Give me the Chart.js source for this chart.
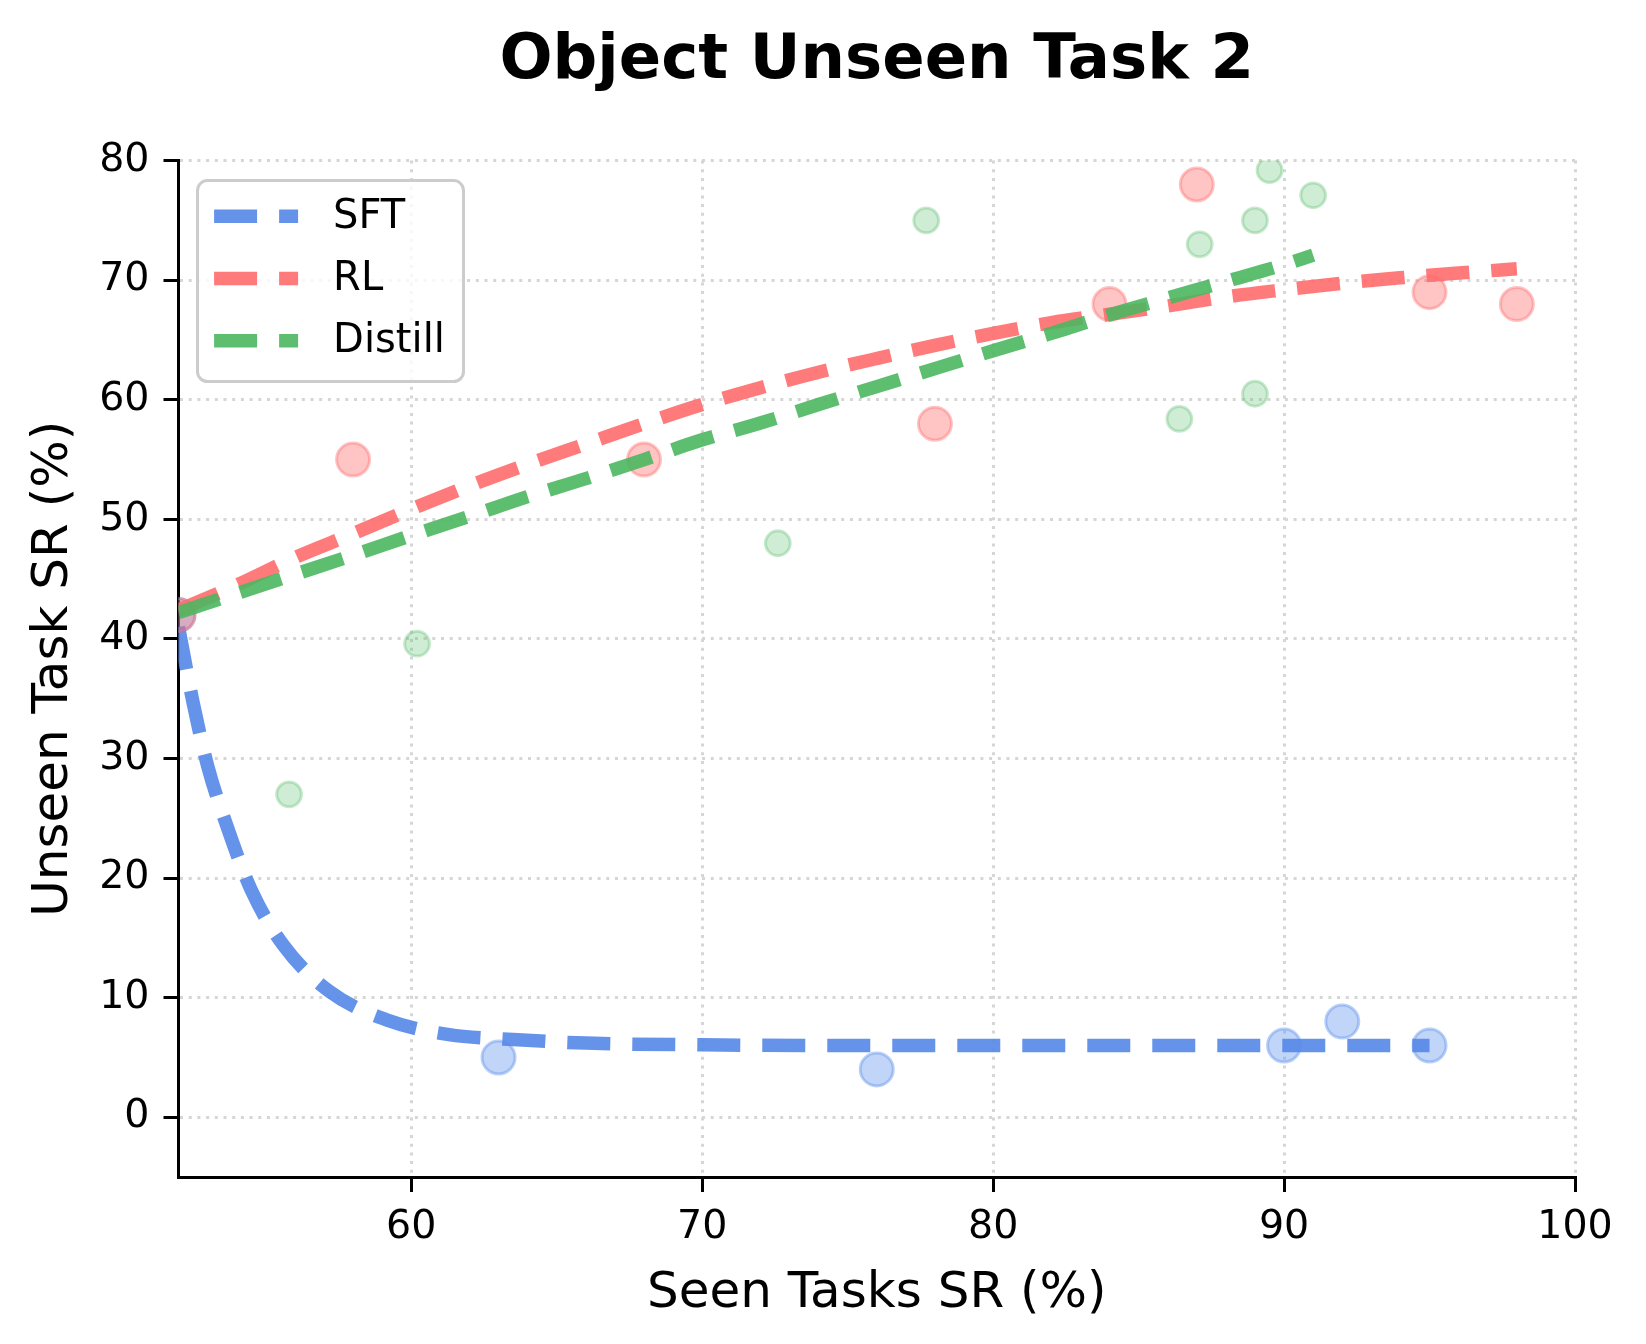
<!DOCTYPE html>
<html>
<head>
<meta charset="utf-8">
<title>Object Unseen Task 2</title>
<script src="https://cdn.jsdelivr.net/npm/chart.js@4.4.0/dist/chart.umd.min.js"></script>
<style>
  html, body { margin: 0; padding: 0; background: #fff; }
  canvas { display: block; }
</style>
</head>
<body>
<canvas id="grafico" width="1646" height="1344"></canvas>
<script>
// PUNTI
const sftX = [52, 63, 76, 90, 92, 95];
const sftY = [42, 5, 4, 6, 8, 6];
const rlX = [52, 58, 68, 78, 84, 87, 95, 98];
const rlY = [42, 55, 55, 58, 68, 78, 69, 68];
const distX = [55.8, 60.2, 72.6, 77.7, 86.4, 87.1, 89, 89, 89.5, 91];
const distY = [27, 39.6, 48, 75, 58.4, 73, 75, 60.5, 79.2, 77.1];

// CURVE DI TENDENZA
const sftCurveX = [52, 52.5, 53, 53.7, 54.5, 55.6, 57.2, 59.2, 61.3, 63.5, 66, 70, 75, 80, 85, 90, 95];
const sftCurveY = [41, 34.7, 29.4, 24.1, 19.0, 14.4, 10.5, 8.1, 6.9, 6.5, 6.2, 6.05, 6, 6, 6, 6, 6];
const rlCurveX = [52, 54, 56, 58, 60, 62, 64, 66, 68, 70, 72, 74, 76, 78, 80, 82, 84, 86, 88, 90, 92, 94, 96, 98];
const rlCurveY = [42.4, 44.5, 46.8, 48.8, 50.85, 52.8, 54.6, 56.3, 58.0, 59.6, 61.0, 62.3, 63.45, 64.55, 65.55, 66.45, 67.15, 67.85, 68.6, 69.2, 69.75, 70.2, 70.6, 70.95];
const distCurveX = [52, 54, 56, 58, 60, 62, 64, 66, 68, 70, 72, 74, 76, 78, 80, 82, 84, 86, 88, 90, 91];
const distCurveY = [42.2, 43.8, 45.4, 47.0, 48.65, 50.25, 51.9, 53.4, 55.0, 56.65, 58.05, 59.6, 61.1, 62.6, 64.1, 65.55, 67.1, 68.5, 69.9, 71.3, 72.1];

const xTicks = [60, 70, 80, 90, 100];
const yTicks = [0, 10, 20, 30, 40, 50, 60, 70, 80];
const nomiSerie = ['SFT', 'RL', 'Distill'];

const font = 'DejaVu Sans';
const coloriLinea = ['rgba(88,138,232,0.92)', 'rgba(255,107,107,0.9)', 'rgba(76,183,96,0.9)'];
const coloriPunti = ['rgba(100,149,237,0.4)', 'rgba(255,107,107,0.4)', 'rgba(76,183,96,0.27)'];
const bordiPunti = ['rgba(100,149,237,0.45)', 'rgba(255,107,107,0.4)', 'rgba(76,183,96,0.3)'];
const tratteggio = [43, 22];

function coppie(xs, ys) {
  return xs.map((x, i) => ({x: x, y: ys[i]}));
}

function punti(i, xs, ys, raggio, ordine) {
  return {
    type: 'scatter',
    label: nomiSerie[i] + ' punti',
    data: coppie(xs, ys),
    backgroundColor: coloriPunti[i],
    borderColor: bordiPunti[i],
    borderWidth: 3,
    pointRadius: raggio,
    pointHoverRadius: raggio,
    clip: 0,
    order: ordine
  };
}

function curva(i, xs, ys, ordine) {
  return {
    type: 'line',
    label: nomiSerie[i],
    data: coppie(xs, ys),
    borderColor: coloriLinea[i],
    borderWidth: 13.5,
    borderDash: tratteggio,
    borderCapStyle: 'butt',
    borderJoinStyle: 'round',
    cubicInterpolationMode: 'monotone',
    pointRadius: 0,
    fill: false,
    clip: 0,
    order: ordine
  };
}

//LEGENDA dentro l'area del grafico
const legenda = {
  id: 'legendaInterna',
  afterDatasetsDraw(chart) {
    const ctx = chart.ctx;
    const a = chart.chartArea;
    const x0 = a.left + 19, y0 = a.top + 20, w = 266, h = 201;
    ctx.save();
    ctx.beginPath();
    ctx.roundRect(x0, y0, w, h, 10);
    ctx.fillStyle = 'rgba(255,255,255,0.8)';
    ctx.fill();
    ctx.lineWidth = 3;
    ctx.strokeStyle = '#cccccc';
    ctx.stroke();
    for (let i = 0; i < nomiSerie.length; i++) {
      const y = y0 + 35.6 + i * 62.3;
      ctx.beginPath();
      ctx.setLineDash(tratteggio);
      ctx.lineCap = 'butt';
      ctx.lineWidth = 13.5;
      ctx.strokeStyle = coloriLinea[i];
      ctx.moveTo(x0 + 16.6, y);
      ctx.lineTo(x0 + 100.6, y);
      ctx.stroke();
      ctx.setLineDash([]);
      ctx.fillStyle = '#000';
      ctx.font = '40px "' + font + '"';
      ctx.textAlign = 'left';
      ctx.textBaseline = 'middle';
      ctx.fillText(nomiSerie[i], x0 + 135.6, y + 1);
    }
    ctx.restore();
  }
};

const griglia = {
  color: '#d6d6d6',
  lineWidth: 3,
  drawTicks: true,
  tickLength: 15,
  tickColor: '#000',
  tickWidth: 3,
  tickBorderDash: [100, 0]
};

new Chart(document.getElementById('grafico'), {
  type: 'scatter',
  data: {
    datasets: [
      curva(2, distCurveX, distCurveY, 0),
      punti(2, distX, distY, 12.4, 1),
      curva(1, rlCurveX, rlCurveY, 2),
      punti(1, rlX, rlY, 16.5, 3),
      curva(0, sftCurveX, sftCurveY, 4),
      punti(0, sftX, sftY, 16.5, 5)
    ]
  },
  options: {
    responsive: false,
    devicePixelRatio: 1,
    animation: false,
    events: [],
    layout: { padding: { top: 0, left: 0, right: 71, bottom: 0 } },
    plugins: {
      legend: { display: false },
      tooltip: { enabled: false },
      title: {
        display: true,
        text: 'Object Unseen Task 2',
        fullSize: false,
        color: '#000',
        font: { family: font, size: 62.5, weight: 'bold', lineHeight: 1.2 },
        padding: { top: 23.8, bottom: 61.8 }
      }
    },
    scales: {
      x: {
        type: 'linear',
        min: 52,
        max: 100,
        afterFit: s => { s.height = 167; },
        afterBuildTicks: s => { s.ticks = xTicks.map(v => ({value: v})); },
        ticks: { color: '#000', font: { family: font, size: 39.5 }, padding: 12.5, maxRotation: 0, autoSkip: false },
        grid: griglia,
        border: { display: true, color: '#000', width: 3, dash: [3, 5.7] },
        title: {
          display: true,
          text: 'Seen Tasks SR (%)',
          color: '#000',
          font: { family: font, size: 50, lineHeight: 1.2 },
          padding: { top: 0, bottom: 19.5 }
        }
      },
      y: {
        type: 'linear',
        min: -5,
        max: 80,
        afterFit: s => { s.width = 178.5; },
        afterBuildTicks: s => { s.ticks = yTicks.map(v => ({value: v})); },
        ticks: { color: '#000', font: { family: font, size: 39.5 }, padding: 14, autoSkip: false },
        grid: griglia,
        border: { display: true, color: '#000', width: 3, dash: [3, 5.7] },
        title: {
          display: true,
          text: 'Unseen Task SR (%)',
          color: '#000',
          font: { family: font, size: 50, lineHeight: 1.2 },
          padding: { top: 24, bottom: 0 }
        }
      }
    }
  },
  plugins: [legenda]
});
</script>
</body>
</html>
